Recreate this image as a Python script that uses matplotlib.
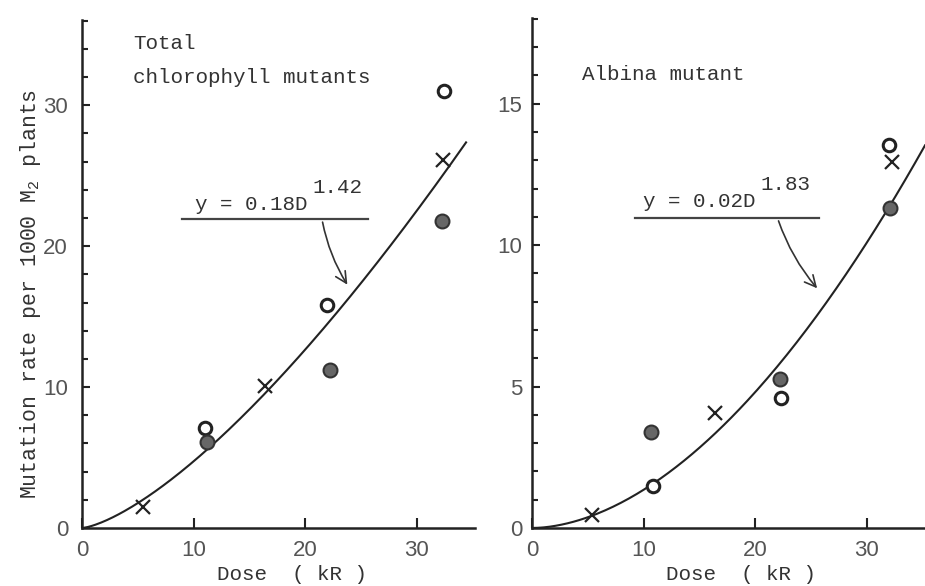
import numpy as np
from matplotlib import pyplot as plt
from matplotlib.ticker import MultipleLocator

# dati letti dal grafico
# pannello sinistro: mutanti clorofilliani totali
tot_x_dose = [5.5, 16.4, 32.3]
tot_x_rate = [1.5, 10.1, 26.1]
tot_open_dose = [11.0, 21.9, 32.4]
tot_open_rate = [7.1, 15.8, 31.0]
tot_fill_dose = [11.2, 22.2, 32.2]
tot_fill_rate = [6.1, 11.2, 21.8]
tot_coef, tot_exp = 0.18, 1.42

# pannello destro: mutante albina
alb_x_dose = [5.4, 16.4, 32.2]
alb_x_rate = [0.45, 4.05, 12.95]
alb_open_dose = [10.8, 22.3, 32.0]
alb_open_rate = [1.5, 4.6, 13.55]
alb_fill_dose = [10.7, 22.2, 32.1]
alb_fill_rate = [3.4, 5.25, 11.3]
alb_coef, alb_exp = 0.02, 1.83

MONO = "Liberation Mono"
TXT = "#333333"
plt.rcParams["font.family"] = MONO

fig = plt.figure(figsize=(9.25, 5.86), dpi=100)
ax1 = fig.add_axes([82/925, 58/586, 393/925, 508/586])
ax2 = fig.add_axes([532/925, 58/586, 393/925, 510/586])


def stile(ax, ymax, ymaj, ymin, pad_y):
    for s in ["top", "right"]:
        ax.spines[s].set_visible(False)
    for s in ["left", "bottom"]:
        ax.spines[s].set_linewidth(1.8)
        ax.spines[s].set_color("#222222")
    ax.set_xlim(0, 35.2)
    ax.set_ylim(0, ymax)
    ax.xaxis.set_major_locator(MultipleLocator(10))
    ax.yaxis.set_major_locator(MultipleLocator(ymaj))
    ax.yaxis.set_minor_locator(MultipleLocator(ymin))
    ax.tick_params(axis="x", direction="in", length=7, width=1.5, pad=9,
                   labelsize=16, labelcolor="#555555", color="#222222")
    ax.tick_params(axis="y", which="major", direction="in", length=6, width=1.5,
                   pad=pad_y, labelsize=16, labelcolor="#555555", color="#222222")
    ax.tick_params(axis="y", which="minor", direction="in", length=4, width=1.5,
                   color="#222222")
    for lab in ax.get_xticklabels() + ax.get_yticklabels():
        lab.set_family("Liberation Sans")


def punti(ax, xd, xr, od, orr, fd, fr):
    ax.plot(xd, xr, "x", color="#222222", ms=10, mew=1.6, clip_on=False)
    ax.plot(od, orr, "o", mfc="white", mec="#222222", ms=9, mew=2.2, clip_on=False)
    ax.plot(fd, fr, "o", mfc="#666666", mec="#333333", ms=10, mew=1.5, clip_on=False)


# pannello sinistro
stile(ax1, 36.05, 10, 2, 10)
D1 = np.linspace(0, 34.4, 200)
ax1.plot(D1, tot_coef * D1 ** tot_exp, color="#222222", lw=1.5)
punti(ax1, tot_x_dose, tot_x_rate, tot_open_dose, tot_open_rate,
      tot_fill_dose, tot_fill_rate)
ax1.text(4.6, 34.4, "Total", fontsize=15, color=TXT, va="center")
ax1.text(4.6, 32.0, "chlorophyll mutants", fontsize=15, color=TXT, va="center")
ax1.text(10.1, 22.6, "y = %.2fD" % tot_coef, fontsize=15, color=TXT, va="baseline")
ax1.text(20.6, 23.75, "%.2f" % tot_exp, fontsize=15, color=TXT, va="baseline")
ax1.plot([9.0, 25.6], [21.9, 21.9], color="#444444", lw=1.6)
ax1.annotate("", xy=(23.9, 17.1), xytext=(21.5, 21.9),
             arrowprops=dict(arrowstyle="->", color="#333333", lw=1.2,
                             mutation_scale=20, connectionstyle="arc3,rad=0.1"))
ax1.set_ylabel("Mutation rate per 1000 M$_\\mathregular{2}$ plants",
               fontsize=15.5, color=TXT)
ax1.yaxis.set_label_coords(-0.10, 0.46)

# pannello destro
stile(ax2, 18.03, 5, 1, 7)
D2 = np.linspace(0, 35.2, 200)
ax2.plot(D2, alb_coef * D2 ** alb_exp, color="#222222", lw=1.5)
punti(ax2, alb_x_dose, alb_x_rate, alb_open_dose, alb_open_rate,
      alb_fill_dose, alb_fill_rate)
ax2.text(4.5, 16.05, "Albina mutant", fontsize=15, color=TXT, va="center")
ax2.text(9.9, 11.35, "y = %.2fD" % alb_coef, fontsize=15, color=TXT, va="baseline")
ax2.text(20.5, 11.95, "%.2f" % alb_exp, fontsize=15, color=TXT, va="baseline")
ax2.plot([9.2, 25.7], [10.95, 10.95], color="#444444", lw=1.6)
ax2.annotate("", xy=(25.7, 8.4), xytext=(22.0, 10.95),
             arrowprops=dict(arrowstyle="->", color="#333333", lw=1.2,
                             mutation_scale=20, connectionstyle="arc3,rad=0.1"))

fig.text(292/925, 2/586, "Dose  ( kR )", fontsize=15, color=TXT,
         ha="center", va="bottom")
fig.text(741/925, 2/586, "Dose  ( kR )", fontsize=15, color=TXT,
         ha="center", va="bottom")

fig.savefig("out.png", dpi=100)
